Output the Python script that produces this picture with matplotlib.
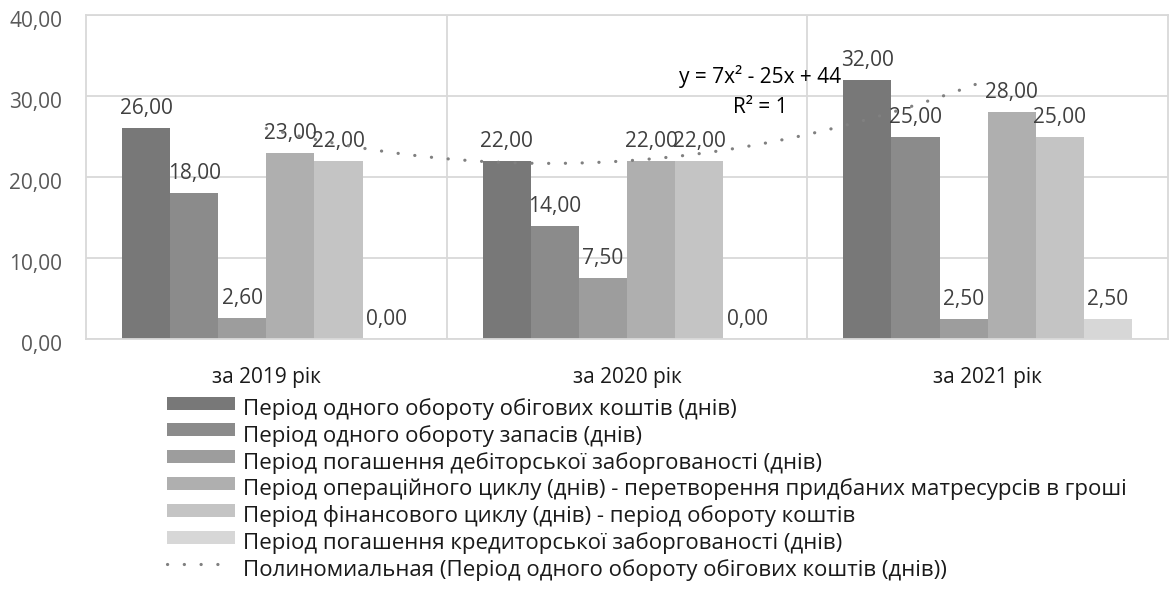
import numpy as np
import matplotlib
matplotlib.use("Agg")
import matplotlib.pyplot as plt
from matplotlib.patches import Rectangle
from matplotlib.lines import Line2D

plt.rcParams['font.family'] = ['Open Sans', 'DejaVu Sans']

categories = ["за 2019 рік", "за 2020 рік", "за 2021 рік"]
series_names = [
    "Період одного обороту обігових коштів (днів)",
    "Період одного обороту запасів (днів)",
    "Період погашення дебіторської заборгованості (днів)",
    "Період операційного циклу (днів) - перетворення придбаних матресурсів в гроші",
    "Період фінансового циклу (днів) - період обороту коштів",
    "Період погашення кредиторської заборгованості (днів)",
]
turnover_current = [26.00, 22.00, 32.00]
turnover_stock = [18.00, 14.00, 25.00]
receivables = [2.60, 7.50, 2.50]
operating_cycle = [23.00, 22.00, 28.00]
financial_cycle = [22.00, 22.00, 25.00]
payables = [0.00, 0.00, 2.50]
trend_name = "Полиномиальная (Період одного обороту обігових коштів (днів))"
yticks = [0, 10, 20, 30, 40]

series = [turnover_current, turnover_stock, receivables,
          operating_cycle, financial_cycle, payables]
colors = ["#787878", "#8b8b8b", "#9d9d9d", "#afafaf", "#c4c4c4", "#d7d7d7"]
trend_color = "#808080"
grid_color = "#d9d9d9"

W, H = 1169, 598
DPI = 100
PT = 72 / DPI  # points per pixel
fig = plt.figure(figsize=(W / DPI, H / DPI), dpi=DPI)
ax = fig.add_axes([86 / W, 1 - 339 / H, (1168 - 86) / W, (339 - 15) / H])

fmt = lambda v: f"{v:.2f}".replace(".", ",")
fs = 15
fs_leg = 16

x = np.arange(len(categories))
n = len(series)
bw = 0.8 / n
for i, (vals, c) in enumerate(zip(series, colors)):
    pos = x + (i - (n - 1) / 2) * bw
    bars = ax.bar(pos, vals, width=bw, color=c, zorder=2, linewidth=0)
    for b, v in zip(bars, vals):
        ax.annotate(fmt(v), (b.get_x() + b.get_width() / 2, v),
                    xytext=(0, 14 * PT), textcoords="offset points",
                    ha="center", va="baseline", fontsize=fs, color="#404040",
                    zorder=4)

# second-order polynomial trend of the first series (x = 1, 2, 3)
xn = x + 1
coef = np.polyfit(xn, turnover_current, 2)
xs = np.linspace(xn[0], xn[-1], 300)
fit = np.polyval(coef, xn)
r2 = 1 - np.sum((np.array(turnover_current) - fit) ** 2) / np.sum(
    (np.array(turnover_current) - np.mean(turnover_current)) ** 2)
ax.plot(xs - 1, np.polyval(coef, xs), color=trend_color, lw=2.3,
        dashes=(0.05, 5.2), dash_capstyle="round", zorder=5)
a, b_, c_ = np.round(coef).astype(int)
ax.text(0.6229, 0.790, f"y = {a}x² - {abs(b_)}x + {c_}", transform=ax.transAxes,
        ha="center", va="baseline", fontsize=fs, color="#000000", zorder=5)
ax.text(0.6229, 0.6975, f"R² = {r2:.0f}", transform=ax.transAxes,
        ha="center", va="baseline", fontsize=fs, color="#000000", zorder=5)

ax.set_xlim(-0.5, 2.5)
ax.set_ylim(0, 40)
ax.set_yticks(yticks)
ax.set_yticklabels([])
ax.set_xticks([0.5, 1.5])
ax.set_xticklabels([])
ax.tick_params(axis="both", length=0)
ax.grid(True, color=grid_color, lw=1.3, zorder=0)
for s in ax.spines.values():
    s.set_color(grid_color)
    s.set_linewidth(1.3)
ax.set_axisbelow(True)

# value axis labels
for v in yticks:
    ax.annotate(fmt(v), (0, v), xycoords=("axes fraction", "data"),
                xytext=(-24 * PT, -11.7 * PT), textcoords="offset points",
                ha="right", va="baseline", fontsize=fs, color="#595959",
                annotation_clip=False)
# category labels
for xi, cat in zip(x, categories):
    ax.annotate(cat, (xi, 0), xytext=(0, -43.7 * PT), textcoords="offset points",
                ha="center", va="baseline", fontsize=fs, color="#1a1a1a",
                annotation_clip=False)

# legend below the plot
def fx(px):
    return px / W

def fy(py):
    return 1 - py / H

row_step = 26.8
first_center = 403.0
for k, (name, c) in enumerate(zip(series_names, colors)):
    cy = first_center + k * row_step
    fig.add_artist(Rectangle((fx(167), fy(cy + 6.5)), fx(235) - fx(167),
                             13.0 / H, transform=fig.transFigure,
                             facecolor=c, edgecolor="none"))
    fig.text(fx(242.7), fy(cy + 12), name, ha="left", va="baseline",
             fontsize=fs_leg, color="#1a1a1a")
cy = first_center + len(series_names) * row_step
fig.add_artist(Line2D([fx(167.3), fx(222)], [fy(cy), fy(cy)],
                      transform=fig.transFigure, color=trend_color, lw=2.3,
                      dashes=(0.05, 5.2), dash_capstyle="round"))
fig.text(fx(242.7), fy(cy + 12), trend_name, ha="left", va="baseline",
         fontsize=fs_leg, color="#1a1a1a")

fig.savefig("out.png", dpi=DPI)
